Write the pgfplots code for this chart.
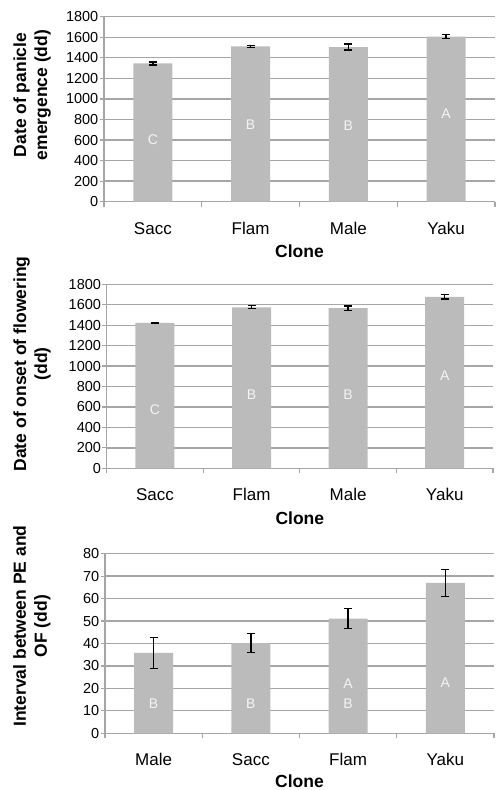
\documentclass[border=0pt]{standalone}
\usepackage{pgfplots}
\pgfplotsset{compat=1.18}
\usepackage{fontspec}
\setmainfont{Liberation Sans}
\definecolor{barc}{HTML}{BBBBBB}
\definecolor{gridc}{HTML}{A6A6A6}
\definecolor{letc}{HTML}{F4F4F4}
\tikzset{lett/.style={text=letc, font=\fontsize{14bp}{16bp}\selectfont, inner sep=0pt}}
\pgfplotsset{
 myax/.style={
  scale only axis,
  anchor=south west,
  xmin=-0.5, xmax=3.5,
  ymin=0,
  axis x line=bottom, axis y line=left,
  axis line style={-, draw=gridc, line width=1.3bp},
  xtick={0,1,2,3},
  minor xtick={-0.5,0.5,1.5,2.5,3.5},
  major x tick style={draw=none},
  minor x tick style={draw=gridc, line width=1.2bp},
  y tick style={draw=gridc, line width=1.2bp},
  tick align=outside,
  major tick length=4.5bp,
  minor tick length=5bp,
  ymajorgrids,
  major grid style={draw=gridc, line width=1.3bp},
  /pgf/number format/assume math mode=true,
  /pgf/number format/1000 sep={},
  yticklabel style={font=\fontsize{14.5bp}{17bp}\selectfont, inner sep=0pt, xshift=-1bp},
  xticklabel style={font=\fontsize{17bp}{20bp}\selectfont, anchor=base, inner sep=0pt},
  xlabel={Clone},
  xlabel style={font=\bfseries\fontsize{17.5bp}{21bp}\selectfont, anchor=base, inner sep=0pt},
  ylabel style={font=\bfseries\fontsize{17.5bp}{21bp}\selectfont, anchor=center, align=center, inner sep=0pt},
 },
 mybar/.style={ybar, bar width=39bp, fill=barc, draw=none,
  error bars/.cd, y dir=both, y explicit,
  error bar style={black, line width=1.3bp},
  error mark options={rotate=90, mark size=4bp, black, line width=1.3bp}},
}
\begin{document}
\begin{tikzpicture}
\useasboundingbox (0,0) rectangle (496bp,790bp);
% Panel 1
\begin{axis}[myax, at={(104bp,588.3bp)}, width=391bp, height=185bp,
  ymax=1800, ytick={0,200,...,1800},
  xticklabels={Sacc,Flam,Male,Yaku},
  xticklabel style={yshift=-28bp},
  xlabel style={at={(axis description cs:0.5,0)}, yshift=-56bp},
  ylabel={Date of panicle\\emergence (dd)},
  ylabel style={at={(axis description cs:-0.184,0.577)}}]
\addplot[mybar] coordinates {(0,1345) +- (0,15) (1,1510) +- (0,8) (2,1505) +- (0,28) (3,1607) +- (0,20)};
\node[lett] at (axis cs:0,600) {C};
\node[lett] at (axis cs:1,746) {B};
\node[lett] at (axis cs:2,737) {B};
\node[lett] at (axis cs:3,860) {A};
\end{axis}
% Panel 2
\begin{axis}[myax, at={(106.7bp,321.7bp)}, width=386.3bp, height=184bp,
  ymax=1800, ytick={0,200,...,1800},
  xticklabels={Sacc,Flam,Male,Yaku},
  xticklabel style={yshift=-27.5bp},
  xlabel style={at={(axis description cs:0.5,0)}, yshift=-56bp},
  ylabel={Date of onset of flowering\\(dd)},
  ylabel style={at={(axis description cs:-0.193,0.567)}}]
\addplot[mybar] coordinates {(0,1422) +- (0,6) (1,1575) +- (0,15) (2,1567) +- (0,22) (3,1677) +- (0,20)};
\node[lett] at (axis cs:0,577) {C};
\node[lett] at (axis cs:1,717) {B};
\node[lett] at (axis cs:2,717) {B};
\node[lett] at (axis cs:3,903) {A};
\end{axis}
% Panel 3
\begin{axis}[myax, at={(105bp,56.7bp)}, width=389bp, height=179.6bp,
  ymax=80, ytick={0,10,...,80},
  xticklabels={Male,Sacc,Flam,Yaku},
  xticklabel style={yshift=-28bp},
  xlabel style={at={(axis description cs:0.5,0)}, yshift=-54bp},
  ylabel={Interval between PE and\\OF (dd)},
  ylabel style={at={(axis description cs:-0.188,0.597)}}]
\addplot[mybar] coordinates {(0,35.8) +- (0,7) (1,40.2) +- (0,4.1) (2,51.1) +- (0,4.4) (3,67.0) +- (0,6)};
\node[lett] at (axis cs:0,13.1) {B};
\node[lett] at (axis cs:1,13.1) {B};
\node[lett] at (axis cs:2,22.3) {A};
\node[lett] at (axis cs:2,13.1) {B};
\node[lett] at (axis cs:3,22.5) {A};
\end{axis}
\end{tikzpicture}
\end{document}
